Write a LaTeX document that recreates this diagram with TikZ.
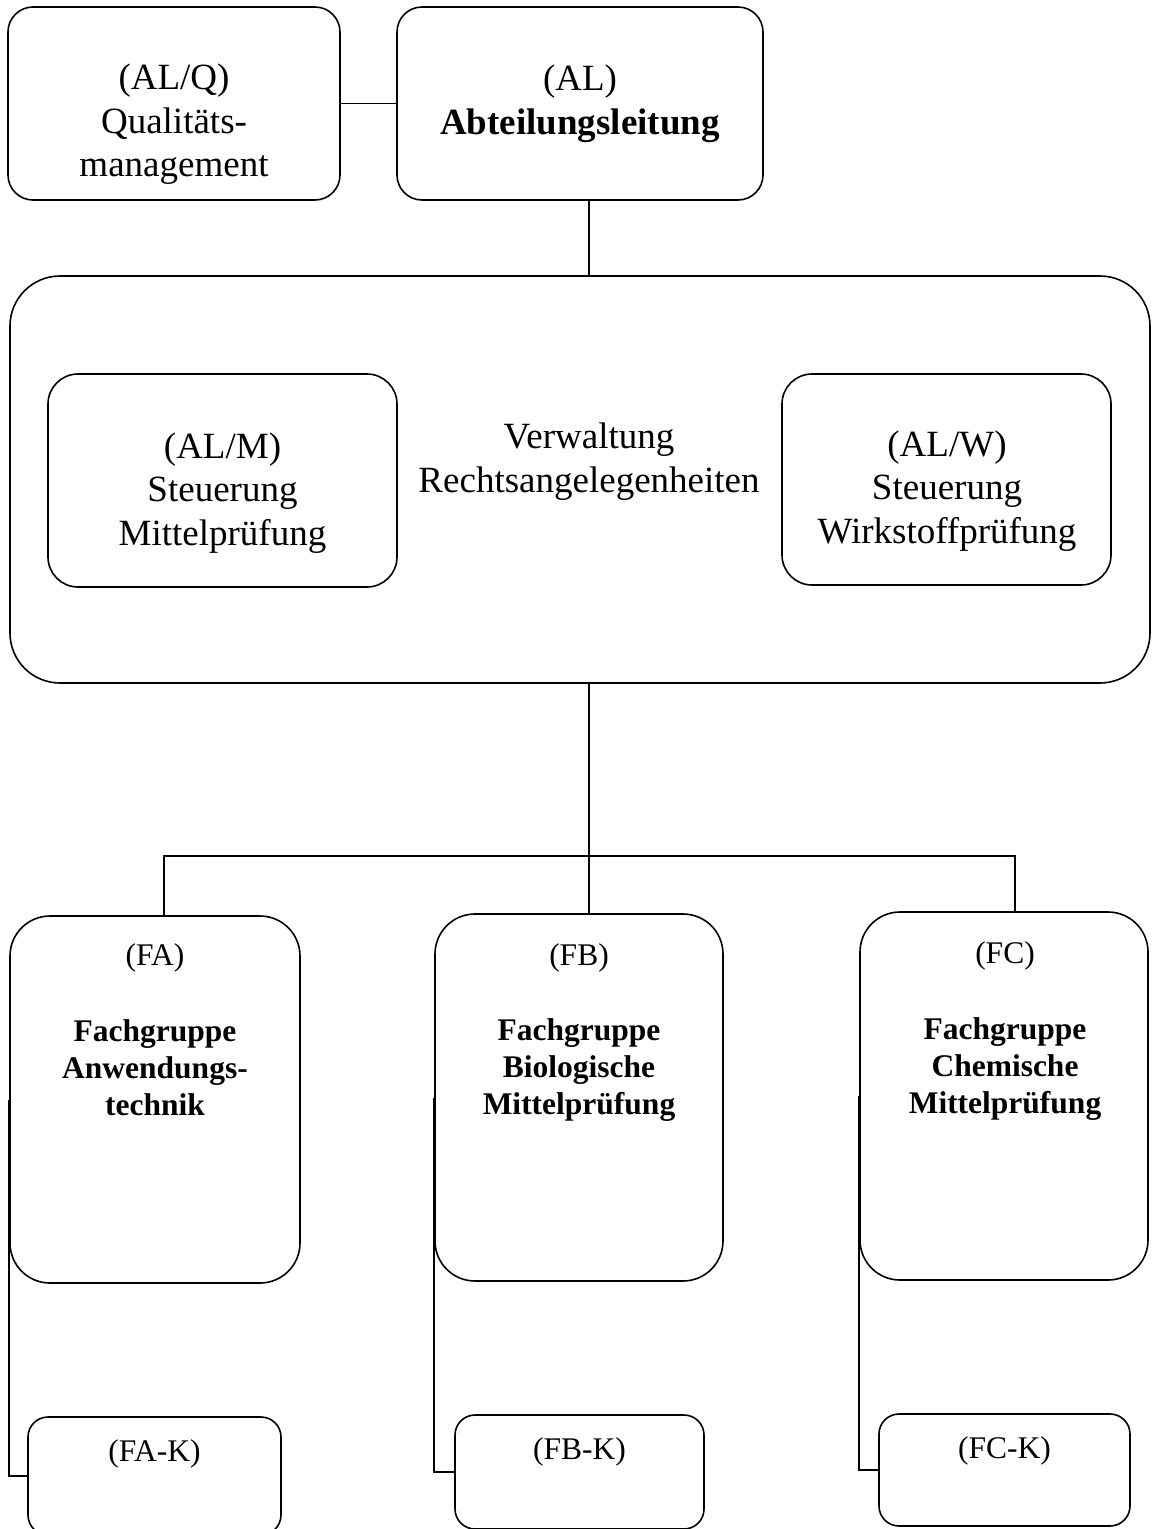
\documentclass[tikz,border=0pt]{standalone}
\usepackage{fontspec}
\setmainfont{Liberation Serif}

\tikzset{every picture/.style={line width=1.6pt}}
\tikzset{
  box/.style={draw, rounded corners=#1, inner sep=0pt},
  box/.default=25pt,
  bigtext/.style={font=\fontsize{37}{43.5}\selectfont, align=center, inner sep=0pt},
  smalltext/.style={font=\fontsize{31.5}{37}\selectfont, align=center, inner sep=0pt},
}

\begin{document}
\begin{tikzpicture}[x=1pt,y=1pt,yscale=-1,xscale=1]
\useasboundingbox (0,0) rectangle (1152,1529);

% Leitung
\node (alq) [box, minimum width=332, minimum height=193] at (174,103.5) {};
\node (al) [box, minimum width=366, minimum height=193] at (580,103.5) {};
% Verwaltung
\node (verw) [box=50pt, minimum width=1140, minimum height=407] at (580,479.5) {};
\node (alm) [box=30pt, minimum width=349, minimum height=213] at (222.5,480.5) {};
\node (alw) [box=30pt, minimum width=329, minimum height=211] at (946.5,479.5) {};
% Fachgruppen
\node (fa) [box=40pt, minimum width=290, minimum height=367] at (155,1099.5) {};
\node (fb) [box=40pt, minimum width=288, minimum height=367] at (579,1097.5) {};
\node (fc) [box=40pt, minimum width=288, minimum height=368] at (1004,1096) {};
% Kommissionen
\node (fak) [box=20pt, minimum width=253, minimum height=118] at (154.5,1476) {};
\node (fbk) [box=20pt, minimum width=249, minimum height=114] at (579.5,1472) {};
\node (fck) [box=20pt, minimum width=251, minimum height=112] at (1004.5,1470) {};

% Text Node
\node (alqtext) [bigtext] at (174,124.5) {(AL/Q)\\Qualitäts-\\management};
% Text Node
\node (altext) [bigtext] at (580,103.5) {(AL)\\\textbf{Abteilungsleitung}};
% Text Node
\node (almtext) [bigtext] at (222.5,493) {(AL/M)\\Steuerung\\Mittelprüfung};
% Text Node
\node (alwtext) [bigtext] at (947,491) {(AL/W)\\Steuerung\\Wirkstoffprüfung};
% Text Node
\node (vtext) [bigtext] at (589,461.5) {Verwaltung\\Rechtsangelegenheiten};
% Text Node
\node (fatitle) [smalltext] at (155,958) {(FA)};
\node (fatext) [smalltext, font=\bfseries\fontsize{31.5}{37}\selectfont] at (155,1068) {Fachgruppe\\Anwendungs-\\technik};
% Text Node
\node (fbtitle) [smalltext] at (579,958) {(FB)};
\node (fbtext) [smalltext, font=\bfseries\fontsize{31.5}{37}\selectfont] at (579,1070) {Fachgruppe\\Biologische\\Mittelprüfung};
% Text Node
\node (fctitle) [smalltext] at (1005,956) {(FC)};
\node (fctext) [smalltext, font=\bfseries\fontsize{31.5}{37}\selectfont] at (1005,1069) {Fachgruppe\\Chemische\\Mittelprüfung};
% Text Node
\node (faktext) [smalltext] at (154.5,1454) {(FA-K)};
\node (fbktext) [smalltext] at (579.5,1452) {(FB-K)};
\node (fcktext) [smalltext] at (1004.5,1451) {(FC-K)};

% Straight Lines
\coordinate (bus) at (589,856);
\draw (alq.east) -- (al.west);
\draw (al.south -| bus) -- (verw.north -| bus);
\draw (verw.south -| bus) -- (fb.north -| bus);
\draw ([xshift=9pt]fa.north) |- (bus) -| ([xshift=11pt]fc.north);
\draw (fa.west) |- (fak.west);
\draw (fb.west) |- (fbk.west);
\draw (fc.west) |- (fck.west);

\end{tikzpicture}
\end{document}
